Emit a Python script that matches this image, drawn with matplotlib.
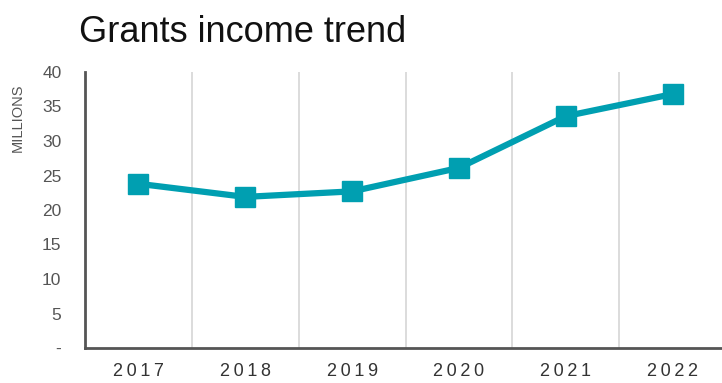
import numpy as np
import matplotlib.pyplot as plt

plt.rcParams['font.family'] = ['Liberation Sans', 'DejaVu Sans']

# Grants income, millions
years = ['2017', '2018', '2019', '2020', '2021', '2022']
income = [23.8, 21.9, 22.7, 26.1, 33.6, 36.8]
y_ticks = [0, 5, 10, 15, 20, 25, 30, 35, 40]
y_labels = ['-', '5', '10', '15', '20', '25', '30', '35', '40']

teal = '#009fb1'
grey_text = '#555555'

fig = plt.figure(figsize=(7.22, 3.83), dpi=100)
ax = fig.add_axes([85 / 722, 1 - 348 / 383, 641 / 722, 276 / 383])

x = np.arange(len(years))
ax.plot(x, income, color=teal, lw=4.5, marker='s', markersize=15,
        solid_joinstyle='round', zorder=3)

# vertical separators between categories
for b in np.arange(0.5, len(years) - 0.5, 1):
    ax.axvline(b, color='#d6d6d6', lw=1.2, zorder=1)

ax.set_xlim(-0.5, len(years) - 0.5)
ax.set_ylim(0, 40)
ax.set_xticks(x)
ax.set_xticklabels(['\u2009'.join(y) for y in years], fontsize=13, color='#333333')
ax.set_yticks(y_ticks)
ax.set_yticklabels(y_labels, fontsize=12.5, color=grey_text)
ax.tick_params(axis='both', length=0)
ax.tick_params(axis='x', pad=11)
ax.tick_params(axis='y', pad=17)

for side in ['top', 'right']:
    ax.spines[side].set_visible(False)
for side in ['left', 'bottom']:
    ax.spines[side].set_color('#555555')
    ax.spines[side].set_linewidth(2)

fig.text(18 / 722, 1 - 118 / 383, 'MILLIONS', rotation=90, fontsize=10.5,
         color=grey_text, ha='center', va='center')
fig.text(79 / 722, 1 - 32 / 383, 'Grants income trend', fontsize=26,
         color='#111111', ha='left', va='center')

fig.savefig('out.png', dpi=100)
